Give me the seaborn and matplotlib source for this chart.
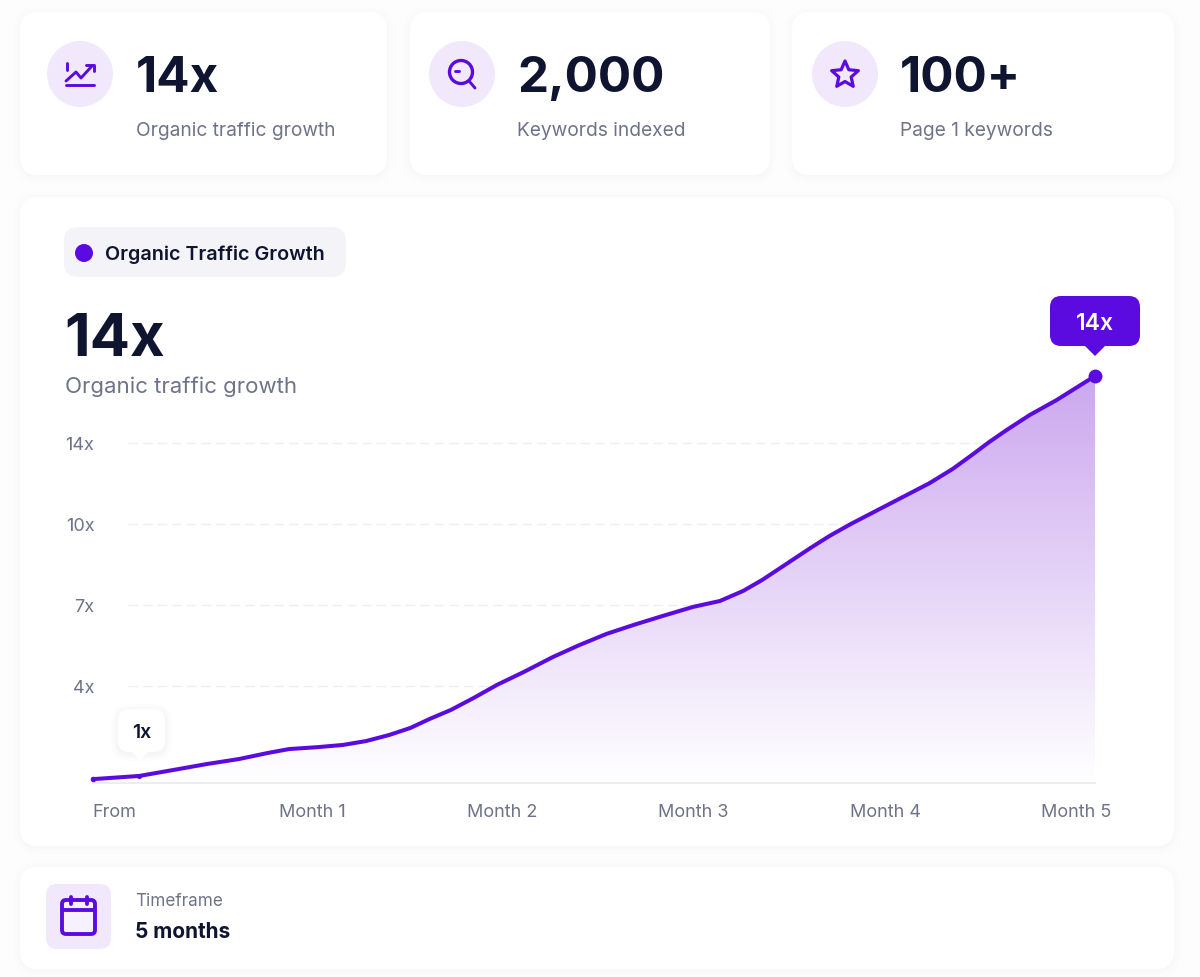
import numpy as np
import pandas as pd
import seaborn as sns
import matplotlib.pyplot as plt
from matplotlib.patches import FancyBboxPatch, Circle, Polygon

# stat cards
stat_values = ["14x", "2,000", "100+"]
stat_labels = ["Organic traffic growth", "Keywords indexed", "Page 1 keywords"]

# line (months, multiple on the chart's own y axis)
months = [-0.11, 0.13, 0.31, 0.48, 0.65, 0.80, 0.91, 1.06, 1.19, 1.31, 1.43, 1.54, 1.64, 1.75,
          1.87, 1.99, 2.13, 2.28, 2.42, 2.56, 2.70, 2.85, 3.01, 3.15, 3.27, 3.37, 3.51, 3.62,
          3.72, 3.83, 3.97, 4.10, 4.24, 4.36, 4.46, 4.55, 4.64, 4.76, 4.90, 5.10]
traffic = [0.16, 0.29, 0.54, 0.78, 0.99, 1.24, 1.40, 1.48, 1.57, 1.73, 1.98, 2.27, 2.64, 3.01,
           3.51, 4.04, 4.52, 5.07, 5.52, 5.93, 6.26, 6.59, 6.93, 7.15, 7.52, 7.93, 8.59, 9.11,
           9.56, 10.00, 10.69, 11.33, 12.02, 12.72, 13.41, 14.05, 14.64, 15.38, 16.12, 17.31]
x_ticks = [0, 1.03, 2.02, 3.01, 4.01, 5]
x_labels = ["From", "Month 1", "Month 2", "Month 3", "Month 4", "Month 5"]
y_ticks = [4, 7, 10, 14]
y_labels = ["4x", "7x", "10x", "14x"]
# the y axis is not linear: ticks sit at even heights
scale_values = [0, 4, 7, 10, 14, 18]
scale_heights = [0, 97, 178, 259, 340, 421]

PURPLE = "#5B0BE0"
DARK = "#0F1530"
GRAY = "#6E7389"
TINT = "#F1E9FB"
W, H = 1200, 977

sns.set_theme(style="white")
plt.rcParams["font.family"] = ["Inter", "DejaVu Sans"]

fig = plt.figure(figsize=(W / 100, H / 100), dpi=100, facecolor="#FDFDFE")

# pixel layer for the cards
bg = fig.add_axes([0, 0, 1, 1], zorder=0)
bg.set_xlim(0, W)
bg.set_ylim(H, 0)
bg.axis("off")


def card(a, x0, y0, x1, y1, r=18, color="white", shadow=0.0, z=1):
    if shadow:
        for grow, alpha in [(7, 0.5), (5, 0.67), (3, 0.83), (1, 1.0)]:
            a.add_patch(FancyBboxPatch((x0 - grow, y0 - grow + 2), x1 - x0 + 2 * grow, y1 - y0 + 2 * grow,
                                       boxstyle=f"round,pad=0,rounding_size={r + grow}",
                                       fc="#2A2A55", ec="none", alpha=alpha * shadow, zorder=z))
    a.add_patch(FancyBboxPatch((x0, y0), x1 - x0, y1 - y0, boxstyle=f"round,pad=0,rounding_size={r}",
                               fc=color, ec="none", zorder=z + 0.1))


card(bg, 20, 12, 387, 175, shadow=0.006)
card(bg, 410, 12, 770, 175, shadow=0.006)
card(bg, 792, 12, 1174, 175, shadow=0.006)
card(bg, 20, 197, 1174, 846, shadow=0.006)
card(bg, 20, 867, 1174, 969, shadow=0.006)

for cx, tx, val, lab in zip([80, 462, 845], [136, 517, 900], stat_values, stat_labels):
    bg.add_patch(Circle((cx, 74), 33, fc=TINT, ec="none", zorder=2))
    bg.text(tx, 74, val, fontsize=35.5, fontweight="bold", color=DARK, va="center_baseline", ha="left", zorder=3)
    bg.text(tx, 129, lab, fontsize=13.8, color=GRAY, va="center_baseline", ha="left", zorder=3)

# icons
ikw = dict(color=PURPLE, lw=2.1, solid_capstyle="round", solid_joinstyle="round", zorder=3)
bg.plot([66, 94], [85, 85], **ikw)
bg.plot([66, 76, 81, 92], [81, 72, 78, 66], **ikw)
bg.plot([86, 94, 94], [65, 65, 71], **ikw)
bg.plot([67, 67], [63, 70], **ikw)
bg.add_patch(Circle((461, 72), 11.5, fc="none", ec=PURPLE, lw=2.4, zorder=3))
bg.plot([469, 475], [81, 88], **ikw)
bg.plot([455, 459], [71, 71], **ikw)
ang = np.pi / 2 + np.arange(10) * np.pi / 5
rad = np.where(np.arange(10) % 2 == 0, 14, 6.5)
bg.add_patch(Polygon(np.c_[845 + rad * np.cos(ang), 75 - rad * np.sin(ang)], closed=True, fc="none",
                     ec=PURPLE, lw=2.3, joinstyle="round", zorder=3))

# legend pill and headline
card(bg, 64, 227, 346, 277, r=14, color="#F4F3F8", z=2)
bg.add_patch(Circle((84, 253), 9, fc=PURPLE, ec="none", zorder=3))
bg.text(105, 253, "Organic Traffic Growth", fontsize=14.2, fontweight="semibold", color=DARK,
        va="center_baseline", ha="left", zorder=3)
bg.text(64, 335, "14x", fontsize=43, fontweight="bold", color=DARK, va="center_baseline", ha="left", zorder=3)
bg.text(65, 385, "Organic traffic growth", fontsize=16, color=GRAY, va="center_baseline", ha="left", zorder=3)

# timeframe card
card(bg, 46, 884, 111, 949, r=11, color=TINT, z=2)
card(bg, 62, 900, 95, 934, r=4, color="#F6F1FD", z=2.5)
bg.add_patch(FancyBboxPatch((62, 900), 33, 34, boxstyle="round,pad=0,rounding_size=4", fc="none", ec=PURPLE,
                            lw=2.8, zorder=3))
ikw["lw"] = 2.8
bg.plot([62, 95], [910, 910], **ikw)
bg.plot([71, 71], [897, 904], **ikw)
bg.plot([87, 87], [897, 904], **ikw)
bg.text(135, 900, "Timeframe", fontsize=12.3, color=GRAY, va="center_baseline", ha="left", zorder=3)
bg.text(135, 930, "5 months", fontsize=15, fontweight="bold", color=DARK, va="center_baseline", ha="left", zorder=3)

# chart
x_left, x_right, y_top, y_base = 93, 1095, 376, 783
ax = fig.add_axes([x_left / W, 1 - y_base / H, (x_right - x_left) / W, (y_base - y_top) / H], zorder=1)
ax.patch.set_alpha(0)
ax.set_yscale("function", functions=(lambda v: np.interp(v, scale_values, scale_heights),
                                     lambda h: np.interp(h, scale_heights, scale_values)))

df = pd.DataFrame({"month": months, "traffic": traffic})

# gradient under the line, white first so the grid stops at the area
poly = ax.fill_between(df["month"], df["traffic"], color="white", lw=0, zorder=0.5)
grad = np.zeros((256, 1, 4))
grad[..., 0], grad[..., 1], grad[..., 2] = 0.52, 0.18, 0.85
grad[..., 3] = np.linspace(0.42, 0.0, 256)[:, None]
im = ax.imshow(grad, extent=[0, 1, 0, 1], origin="upper", aspect="auto", transform=ax.transAxes, zorder=1)
im.set_clip_path(poly.get_paths()[0], transform=poly.get_transform())

sns.lineplot(data=df, x="month", y="traffic", ax=ax, estimator=None, sort=False, color=PURPLE, lw=2.9,
             solid_joinstyle="round", clip_on=False, zorder=3)
ax.scatter(months[0], traffic[0], s=16, color=PURPLE, clip_on=False, zorder=4, lw=0)
ax.scatter(months[1], traffic[1], s=14, color=PURPLE, clip_on=False, zorder=4, lw=0)
ax.scatter(months[-1], traffic[-1], s=100, color=PURPLE, clip_on=False, zorder=5, lw=0)

ax.hlines(y_ticks, 0.07, months[-1], color="#EEEEF3", lw=1, linestyles=(0, (7, 3.5)), zorder=0)
ax.set_xlim(months[0], months[-1])
ax.set_ylim(0, traffic[-1])
ax.set_xticks(x_ticks, x_labels)
ax.set_yticks(y_ticks, y_labels)
ax.minorticks_off()
ax.tick_params(axis="x", length=0, pad=15, labelsize=13, labelcolor=GRAY)
ax.tick_params(axis="y", length=0, pad=-1, labelsize=13, labelcolor=GRAY)
ax.set_xlabel("")
ax.set_ylabel("")
sns.despine(ax=ax, left=True, right=True, top=True)
ax.spines["bottom"].set_color("#EBEBF0")
ax.spines["bottom"].set_linewidth(1.3)

# callouts on top
fg = fig.add_axes([0, 0, 1, 1], zorder=2)
fg.set_xlim(0, W)
fg.set_ylim(H, 0)
fg.axis("off")


def callout(x0, y0, x1, y1, tip_x, tip_y, half, color, text, text_color, size, shadow=0.0):
    card(fg, x0, y0, x1, y1, r=11, color=color, shadow=shadow, z=1)
    fg.add_patch(Polygon([(tip_x - half, y1 - 1), (tip_x + half, y1 - 1), (tip_x, tip_y)], fc=color, ec="none", zorder=2))
    fg.text((x0 + x1) / 2, (y0 + y1) / 2, text, fontsize=size, fontweight="semibold", color=text_color,
            ha="center", va="center_baseline", zorder=3)


callout(1050, 296, 1140, 346, 1095, 356, 11, PURPLE, "14x", "white", 16.5)
callout(118, 709, 165, 752, 140, 760, 9, "white", "1x", DARK, 14, shadow=0.012)

fig.savefig("out.png", dpi=100, facecolor=fig.get_facecolor())
